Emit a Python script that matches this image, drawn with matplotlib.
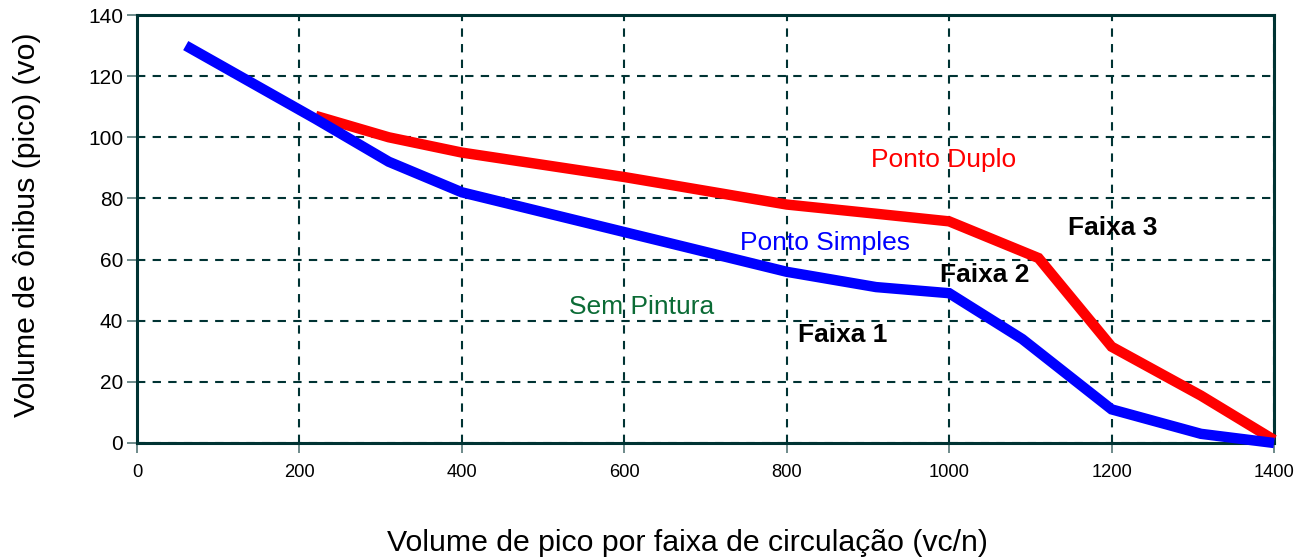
import matplotlib
matplotlib.use("Agg")
import matplotlib.pyplot as plt

plt.rcParams['font.family'] = ['Liberation Sans', 'DejaVu Sans']

# Ponto Simples (azul)
simples_x = [60, 220, 310, 400, 600, 800, 910, 1000, 1090, 1200, 1310, 1400]
simples_y = [130, 106, 92, 82, 69, 56, 51, 49, 34, 11, 3, 0]

# Ponto Duplo (vermelho)
duplo_x = [220, 310, 400, 600, 800, 910, 1000, 1110, 1200, 1310, 1400]
duplo_y = [107, 100, 95, 87, 78, 75, 72.5, 60.5, 31.5, 15.5, 1]

x_ticks = [0, 200, 400, 600, 800, 1000, 1200, 1400]
y_ticks = [0, 20, 40, 60, 80, 100, 120, 140]

# rótulos dentro do gráfico: (texto, x, y, cor, negrito)
rotulos = [
    ("Ponto Duplo", 993, 92.5, '#ff0000', False),
    ("Ponto Simples", 847, 65.5, '#0000ff', False),
    ("Sem Pintura", 621, 44.5, '#0b6b35', False),
    ("Faixa 1", 869, 35.3, 'black', True),
    ("Faixa 2", 1044, 55, 'black', True),
    ("Faixa 3", 1202, 70.3, 'black', True),
]

cor_eixo = '#003333'

fig = plt.figure(figsize=(13.11, 5.58), dpi=100)
ax = fig.add_axes([0.1045, 0.2061, 0.8673, 0.767])

ax.plot(duplo_x, duplo_y, color='#ff0000', linewidth=7.5,
        solid_capstyle='butt', solid_joinstyle='miter', clip_on=False, zorder=3)
ax.plot(simples_x, simples_y, color='#0000ff', linewidth=7.5,
        solid_capstyle='butt', solid_joinstyle='miter', clip_on=False, zorder=4)

for txt, x, y, c, negrito in rotulos:
    ax.text(x, y, txt, color=c, fontsize=19,
            fontweight='bold' if negrito else 'normal',
            ha='center', va='center', zorder=5)

ax.set_xlim(0, 1400)
ax.set_ylim(0, 140)
ax.set_xticks(x_ticks)
ax.set_yticks(y_ticks)
ax.tick_params(axis='y', labelsize=15, length=7, width=1.2, color='#557777', pad=3)
ax.tick_params(axis='x', labelsize=13.2, length=7, width=1.2, color='#557777', pad=8)

ax.grid(True, color=cor_eixo, linestyle=(0, (4, 3.5)), linewidth=1.5, zorder=1)
ax.set_axisbelow(True)

for s in ax.spines.values():
    s.set_color(cor_eixo)
    s.set_linewidth(2.2)

ax.set_xlabel("Volume de pico por faixa de circulação (vc/n)", fontsize=21.8, labelpad=35)
ax.xaxis.label.set_x(0.484)
ax.set_ylabel("Volume de ônibus (pico) (vo)", fontsize=21.8, labelpad=34)
ax.yaxis.label.set_y(0.51)

fig.savefig("out.png", dpi=100)
